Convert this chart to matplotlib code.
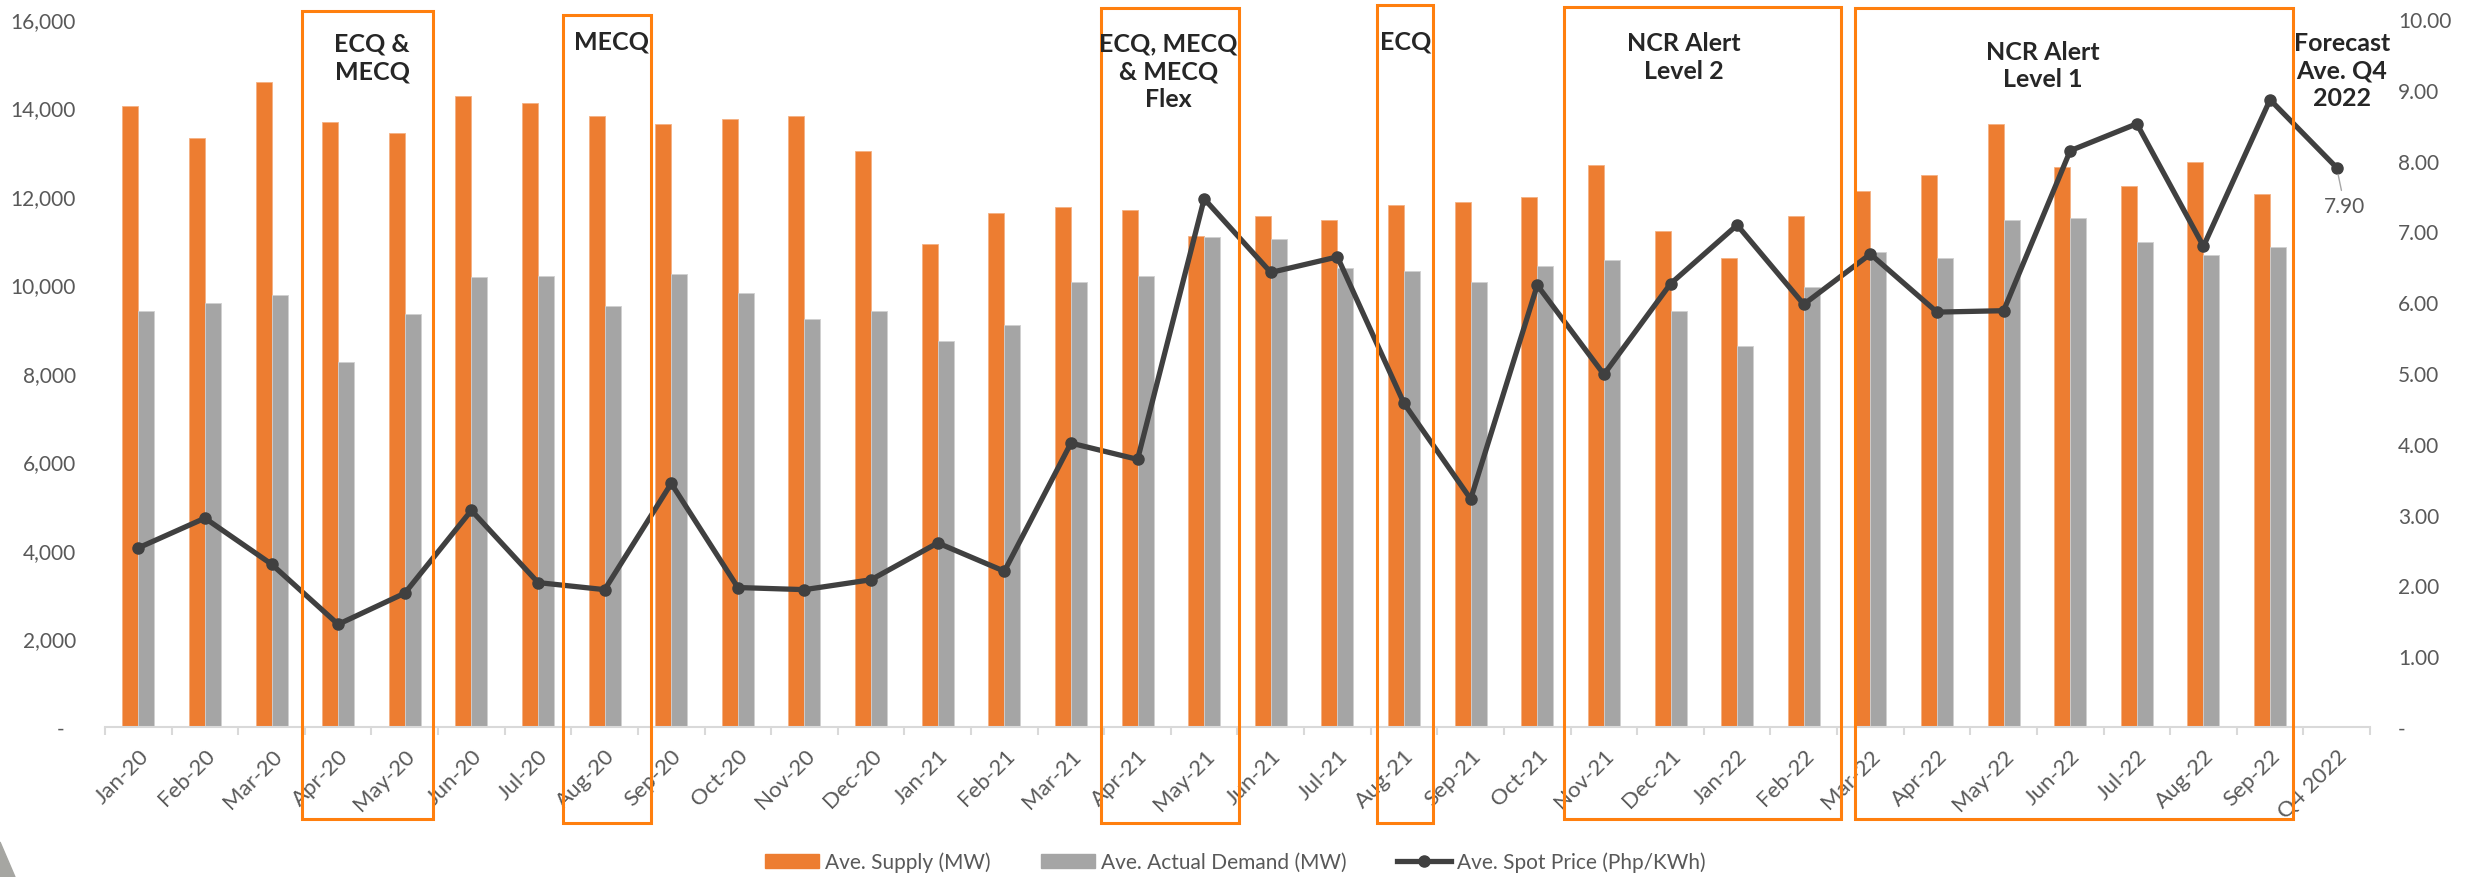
import numpy as np
import matplotlib.pyplot as plt
from matplotlib.patches import Rectangle, Polygon, Patch
from matplotlib.lines import Line2D
import matplotlib.transforms as mtransforms

plt.rcParams['font.family'] = ['Lato', 'DejaVu Sans']

# ---- data ----
months = ['Jan-20', 'Feb-20', 'Mar-20', 'Apr-20', 'May-20', 'Jun-20', 'Jul-20', 'Aug-20',
          'Sep-20', 'Oct-20', 'Nov-20', 'Dec-20', 'Jan-21', 'Feb-21', 'Mar-21', 'Apr-21',
          'May-21', 'Jun-21', 'Jul-21', 'Aug-21', 'Sep-21', 'Oct-21', 'Nov-21', 'Dec-21',
          'Jan-22', 'Feb-22', 'Mar-22', 'Apr-22', 'May-22', 'Jun-22', 'Jul-22', 'Aug-22',
          'Sep-22', 'Q4 2022']

supply = [14030, 13310, 14580, 13670, 13430, 14270, 14095, 13797, 13616, 13733, 13797, 13008,
          10906, 11620, 11749, 11685, 11087, 11557, 11451, 11801, 11867, 11984, 12709, 11205,
          10597, 11557, 12111, 12475, 13616, 12650, 12226, 12768, 12045, np.nan]

demand = [9394, 9575, 9756, 8249, 9333, 10180, 10181, 9510, 10235, 9819, 9211, 9403,
          8730, 9094, 10054, 10181, 11070, 11024, 10362, 10298, 10054, 10416, 10544, 9403,
          8614, 9946, 10725, 10597, 11451, 11503, 10960, 10659, 10840, np.nan]

price = [2.53, 2.95, 2.30, 1.45, 1.89, 3.06, 2.04, 1.94, 3.44, 1.97, 1.94, 2.08,
         2.60, 2.20, 4.01, 3.78, 7.46, 6.42, 6.64, 4.57, 3.22, 6.24, 4.98, 6.26,
         7.09, 5.97, 6.68, 5.86, 5.88, 8.14, 8.52, 6.79, 8.86, 7.90]

# quarantine periods: label, first category, last category
periods = ['ECQ &\nMECQ', 'MECQ', 'ECQ, MECQ\n& MECQ\nFlex', 'ECQ', 'NCR Alert\nLevel 2', 'NCR Alert\nLevel 1']
period_start = [2.46, 6.37, 14.45, 18.59, 21.40, 25.77]
period_end = [4.42, 7.70, 16.52, 19.43, 25.56, 32.34]

ORANGE = '#ED7D31'
GRAY = '#A5A5A5'
LINE = '#404040'
BOX = '#FF7F0E'
TXT = '#595959'

fig = plt.figure(figsize=(24.71, 8.78), dpi=100)
ax = fig.add_axes([105 / 2471, 1 - 728 / 878, (2370 - 105) / 2471, 708 / 878])
ax2 = ax.twinx()

x = np.arange(len(months))
bw = 0.24
ax.bar(x - bw / 2, supply, bw, color=ORANGE, edgecolor='#F4B183', linewidth=0.6, label='Ave. Supply (MW)')
ax.bar(x + bw / 2, demand, bw, color=GRAY, edgecolor='#D0D0D0', linewidth=0.6, label='Ave. Actual Demand (MW)')
ax2.plot(x, price, color=LINE, lw=3.8, marker='o', ms=8, label='Ave. Spot Price (Php/KWh)')

# axes styling
ax.set_xlim(-0.5, len(months) - 0.5)
ax.set_ylim(0, 16000)
ax2.set_ylim(0, 10)
ax.set_yticks(np.arange(0, 16001, 2000))
ax.set_yticklabels(['-  '] + ['{:,}'.format(v) for v in range(2000, 16001, 2000)])
ax2.set_yticks(np.arange(0, 11))
ax2.set_yticklabels(['-'] + ['{:.2f}'.format(v) for v in range(1, 11)])

ax.set_xticks(x)
ax.set_xticklabels(months, rotation=45, ha='right', rotation_mode='anchor')
ax.set_xticks(np.arange(-0.5, len(months)), minor=True)
ax.tick_params(axis='x', which='major', length=0, pad=13, labelsize=16, labelcolor=TXT)
ax.tick_params(axis='x', which='minor', length=6, width=1.5, color='#D9D9D9')
ax.tick_params(axis='y', length=0, pad=21, labelsize=15, labelcolor=TXT)
ax2.tick_params(axis='y', length=0, pad=20, labelsize=15, labelcolor=TXT)

for a in (ax, ax2):
    for s in a.spines.values():
        s.set_visible(False)
ax.spines['bottom'].set_visible(True)
ax.spines['bottom'].set_color('#D9D9D9')
ax.spines['bottom'].set_linewidth(1.5)

# boxes around the quarantine periods (x in categories, y in axes fraction)
trans = mtransforms.blended_transform_factory(ax.transData, ax.transAxes)
box_top = [1.011, 1.006, 1.015, 1.020, 1.017, 1.016]
box_bot = [-0.130, -0.136, -0.136, -0.136, -0.130, -0.130]
text_x = [3.51, 7.10, 15.46, 19.03, 23.20, 28.59]
text_y = [0.946, 0.969, 0.927, 0.969, 0.947, 0.935]
for i in range(len(periods)):
    ax2.add_patch(Rectangle((period_start[i], box_bot[i]), period_end[i] - period_start[i],
                            box_top[i] - box_bot[i], transform=trans, fill=False,
                            edgecolor=BOX, lw=2.2, clip_on=False, zorder=5))
    ax2.text(text_x[i], text_y[i], periods[i], transform=trans, ha='center', va='center',
             fontsize=18, fontweight='bold', color='#262626', linespacing=1.25, zorder=6)

ax2.text(33.08, 0.928, 'Forecast\nAve. Q4\n2022', transform=trans, ha='center', va='center',
         fontsize=18, fontweight='bold', color='#262626', linespacing=1.25)

# forecast value label
ax2.annotate('{:.2f}'.format(price[-1]), xy=(x[-1], price[-1]), xytext=(33.12, 7.36),
             ha='center', va='center', fontsize=15, color=TXT,
             arrowprops=dict(arrowstyle='-', color='#A6A6A6', lw=1, shrinkB=5))

# legend
handles = [Patch(color=ORANGE), Patch(color=GRAY),
           Line2D([], [], color=LINE, lw=3.8, marker='o', ms=8)]
labels = ['Ave. Supply (MW)', 'Ave. Actual Demand (MW)', 'Ave. Spot Price (Php/KWh)']
leg = fig.legend(handles, labels, loc='center', bbox_to_anchor=(0.5, 1 - 863 / 878), ncol=3,
                 frameon=False, fontsize=15, handlelength=2.6, handleheight=0.7,
                 handletextpad=0.3, columnspacing=2.4)
for t in leg.get_texts():
    t.set_color(TXT)

# grey corner decoration
fig.patches.append(Polygon([(0, 35 / 878), (15 / 2471, 0), (0, 0)], closed=True,
                           transform=fig.transFigure, color='#A6A6A2'))

fig.savefig('out.png', dpi=100)
